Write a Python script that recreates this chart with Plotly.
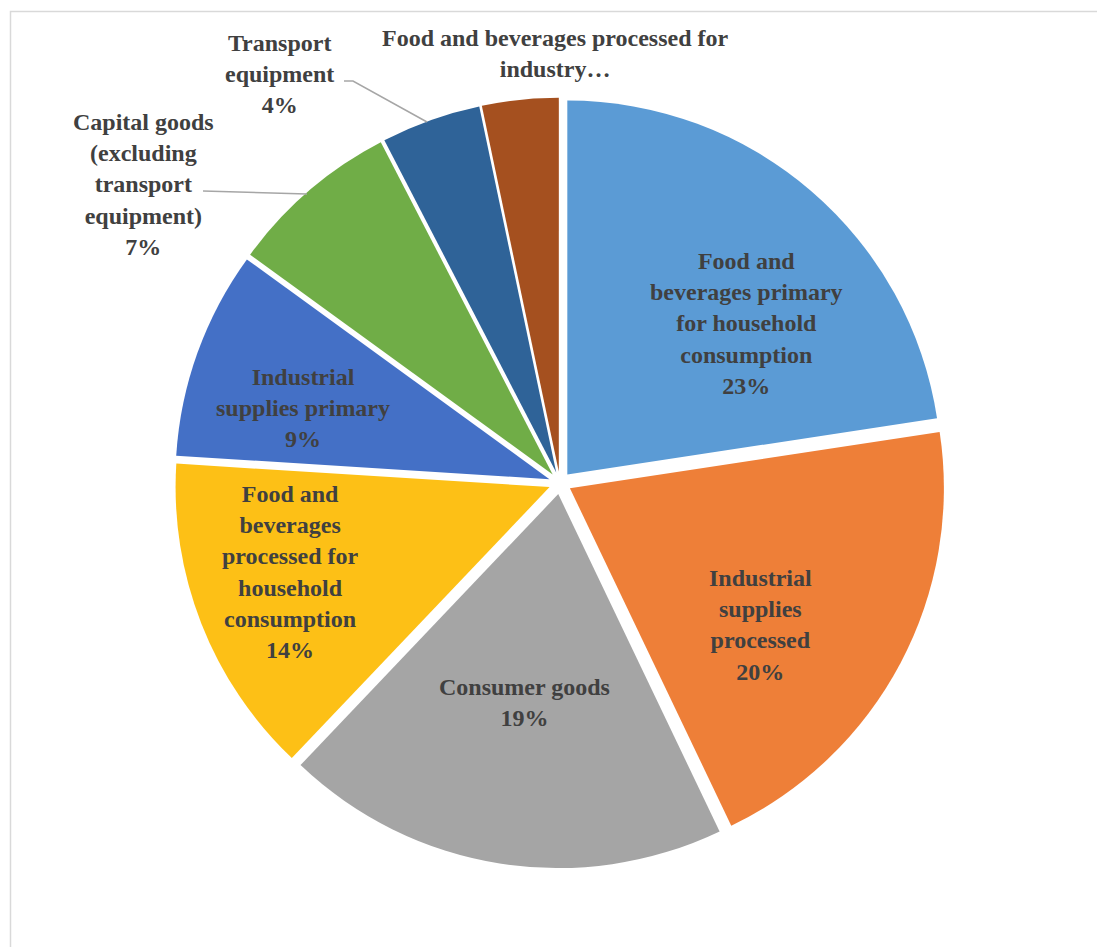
import plotly.graph_objects as go

# ---- data ----
categories = [
    "Food and beverages primary for household consumption",
    "Industrial supplies processed",
    "Consumer goods",
    "Food and beverages processed for household consumption",
    "Industrial supplies primary",
    "Capital goods (excluding transport equipment)",
    "Transport equipment",
    "Food and beverages processed for industry",
]
shares = [22.6, 20.3, 19.2, 13.9, 9.0, 7.4, 4.3, 3.3]

# label text (line breaks as in the reference); last label is truncated there
label_lines = [
    "Food and<br>beverages primary<br>for household<br>consumption",
    "Industrial<br>supplies<br>processed",
    "Consumer goods",
    "Food and<br>beverages<br>processed for<br>household<br>consumption",
    "Industrial<br>supplies primary",
    "Capital goods<br>(excluding<br>transport<br>equipment)",
    "Transport<br>equipment",
    "Food and beverages processed for<br>industry…",
]
show_pct = [True, True, True, True, True, True, True, False]

# ---- styles / layout ----
colors = ["#5b9bd5", "#ee7f38", "#a5a5a5", "#fdc016", "#4470c6",
          "#70ad47", "#2f6398", "#a5501f"]
W, H = 1097, 947
FONT = "Liberation Serif"
TXT = "#404040"
FS = 24

# label centres in pixels (layout only)
label_pos = [(746, 324), (760, 625), (524, 702), (290, 572), (303, 408),
             (143, 184), (279, 74), (555, 53)]
# leader lines in pixels (layout only) for outside labels
leaders = {
    5: [(203, 191), (307, 194)],
    6: [(344, 81), (353, 81), (427, 122)],
}


def px(x, y):
    return x / W, 1 - y / H


total = sum(shares)
fig = go.Figure()
fig.add_trace(go.Pie(
    labels=categories,
    values=shares,
    sort=False,
    direction="clockwise",
    rotation=0,
    pull=[0.03] * len(shares),
    marker=dict(colors=colors, line=dict(width=0)),
    textinfo="none",
    hoverinfo="label+percent",
    showlegend=False,
    domain=dict(x=[(560 - 385.2) / W, (560 + 385.2) / W],
                y=[(H - 483 - 385.2) / H, (H - 483 + 385.2) / H]),
))

annotations = []
for i, (txt, (lx, ly)) in enumerate(zip(label_lines, label_pos)):
    pct = int(shares[i] / total * 100 + 0.5)
    text = f"<b>{txt}" + (f"<br>{pct}%" if show_pct[i] else "") + "</b>"
    x, y = px(lx, ly)
    annotations.append(dict(
        x=x, y=y, xref="paper", yref="paper", text=text, showarrow=False,
        xanchor="center", yanchor="middle", align="center",
        font=dict(family=FONT, size=FS, color=TXT),
    ))

shapes = []
for i, pts in leaders.items():
    path = "M " + " L ".join(f"{px(a, b)[0]},{px(a, b)[1]}" for a, b in pts)
    shapes.append(dict(type="path", xref="paper", yref="paper", path=path,
                       line=dict(color="#a6a6a6", width=1.5)))

# outer chart border (extends past right/bottom page edge as in reference)
shapes.append(dict(type="rect", xref="paper", yref="paper",
                   x0=10.5 / W, x1=1.05, y0=-0.05, y1=1 - 11.5 / H,
                   line=dict(color="#d9d9d9", width=1.5), fillcolor="rgba(0,0,0,0)"))

fig.update_layout(
    width=W, height=H,
    margin=dict(l=0, r=0, t=0, b=0),
    paper_bgcolor="white",
    plot_bgcolor="white",
    annotations=annotations,
    shapes=shapes,
)

fig.write_html("out.html")
